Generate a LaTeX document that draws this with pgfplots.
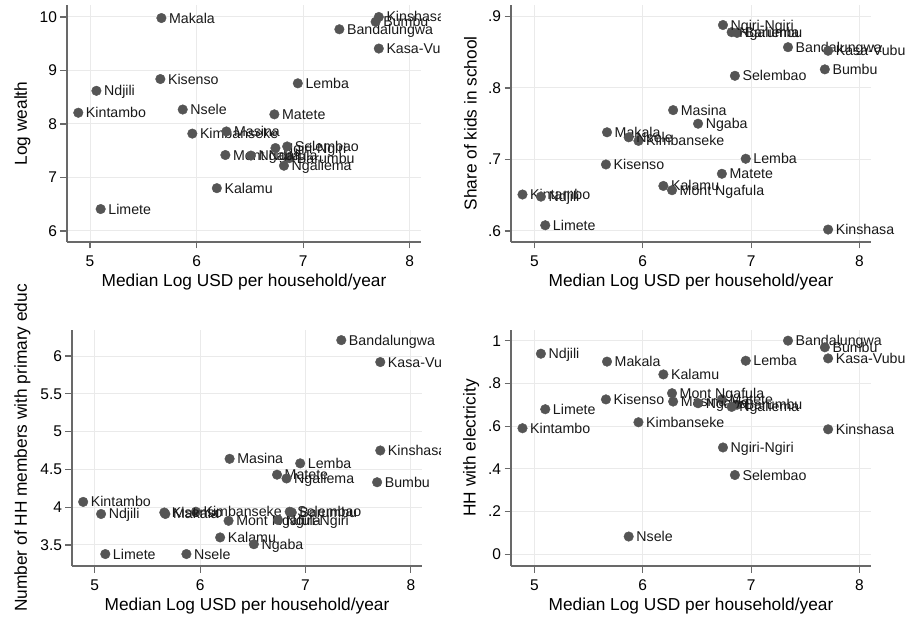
\documentclass[border=0pt]{standalone}
\usepackage{fontspec}
\setmainfont{Liberation Sans}
\usepackage{pgfplots}
\usepackage{pgfplotstable}
\pgfplotsset{compat=1.18}

\definecolor{mk}{RGB}{85,85,85}
\definecolor{axgray}{RGB}{105,105,105}
\definecolor{gridgray}{RGB}{234,234,234}
\definecolor{labtxt}{RGB}{25,25,25}

% commune, median log USD, log wealth, share in school, HH educ, electricity
\pgfplotstableread{
x    lw    sch   edu   ele   name
7.34 9.77  .857  6.21  1.000 Bandalungwa
6.87 7.36  .877  3.93  .700  Barumbu
7.68 9.91  .826  4.33  .969  Bumbu
6.19 6.80  .663  3.60  .842  Kalamu
7.71 9.41  .852  5.92  .917  Kasa-Vubu
5.96 7.82  .726  3.94  .618  Kimbanseke
7.71 10.00 .602  4.75  .585  Kinshasa
4.89 8.21  .651  4.07  .590  Kintambo
5.66 8.84  .693  3.93  .725  Kisenso
6.95 8.76  .701  4.58  .906  Lemba
5.10 6.41  .608  3.38  .679  Limete
5.67 9.98  .738  3.91  .902  Makala
6.28 7.86  .769  4.64  .715  Masina
6.73 8.18  .680  4.43  .725  Matete
6.27 7.42  .657  3.82  .754  {Mont Ngafula}
5.06 8.62  .648  3.91  .939  Ndjili
6.51 7.41  .750  3.51  .707  Ngaba
6.82 7.22  .878  4.38  .690  Ngaliema
6.74 7.55  .888  3.83  .500  Ngiri-Ngiri
5.87 8.27  .731  3.38  .083  Nsele
6.85 7.58  .817  3.94  .371  Selembao
}\communes

\pgfplotsset{
  panel/.style={
    scale only axis, clip=false,
    axis x line*=bottom, axis y line*=left,
    axis line style={-, draw=axgray, line width=1.2pt},
    tick style={draw=axgray, line width=1.2pt},
    major tick length=6.5pt, tick align=outside,
    xmajorgrids, ymajorgrids,
    grid style={draw=gridgray, line width=1pt},
    xmin=4.784, xmax=8.106, xtick={5,6,7,8},
    tick label style={font=\fontsize{15.5}{18}\selectfont, text=black},
    xticklabel style={yshift=-4pt},
    /pgf/number format/assume math mode=true,
    label style={font=\fontsize{17.3}{20}\selectfont},
    xlabel={Median Log USD per household/year},
    xlabel style={at={([yshift=-44.5pt]axis description cs:0.5,0)}, anchor=base},
  },
  pts/.style={
    only marks, mark=*, mark size=4.8pt, color=mk,
    nodes near coords, point meta=explicit symbolic,
    every node near coord/.append style={anchor=base west, inner sep=0pt,
      xshift=7.5pt, yshift=-5pt, text=labtxt,
      font=\fontsize{14.2}{16}\selectfont},
  },
}

\begin{document}
\begin{tikzpicture}
\useasboundingbox (0,0) rectangle (909pt,618pt);

% top left: log wealth
\begin{scope}
\clip (0,0) rectangle (440pt,618pt);
\begin{axis}[panel,
  at={(67pt,376pt)}, anchor=south west, width=354pt, height=237pt,
  ymin=5.794, ymax=10.224, ytick={6,7,8,9,10},
  ylabel={Log wealth},
  ylabel style={at={([xshift=-40pt]axis description cs:0,0.5)}, anchor=base},
]
\addplot[pts] table[x=x, y=lw, meta=name] {\communes};
\end{axis}
\end{scope}

% top right: share in school
\begin{axis}[panel,
  at={(511pt,376pt)}, anchor=south west, width=360pt, height=237pt,
  ymin=0.5846, ymax=0.916, ytick={.6,.7,.8,.9}, yticklabels={.6,.7,.8,.9},
  ylabel={Share of kids in school},
  ylabel style={at={([xshift=-34.5pt]axis description cs:0,0.5)}, anchor=base},
]
\addplot[pts] table[x=x, y=sch, meta=name] {\communes};
\end{axis}

% bottom left: HH educ
\begin{scope}
\clip (0,0) rectangle (440pt,618pt);
\begin{axis}[panel,
  at={(72pt,52pt)}, anchor=south west, width=350pt, height=236pt,
  ymin=3.222, ymax=6.344, ytick={3.5,4,4.5,5,5.5,6},
  yticklabels={3.5,4,4.5,5,5.5,6},
  ylabel={Number of HH members with primary educ},
  ylabel style={at={([xshift=-45pt]axis description cs:0,0.5)}, anchor=base},
]
\addplot[pts] table[x=x, y=edu, meta=name] {\communes};
\end{axis}
\end{scope}

% bottom right: electricity
\begin{axis}[panel,
  at={(511pt,52pt)}, anchor=south west, width=360pt, height=236pt,
  ymin=-0.055, ymax=1.05, ytick={0,.2,.4,.6,.8,1},
  yticklabels={0,.2,.4,.6,.8,1},
  ylabel={HH with electricity},
  ylabel style={at={([xshift=-35.3pt]axis description cs:0,0.5)}, anchor=base},
]
\addplot[pts] table[x=x, y=ele, meta=name] {\communes};
\end{axis}
\end{tikzpicture}
\end{document}
